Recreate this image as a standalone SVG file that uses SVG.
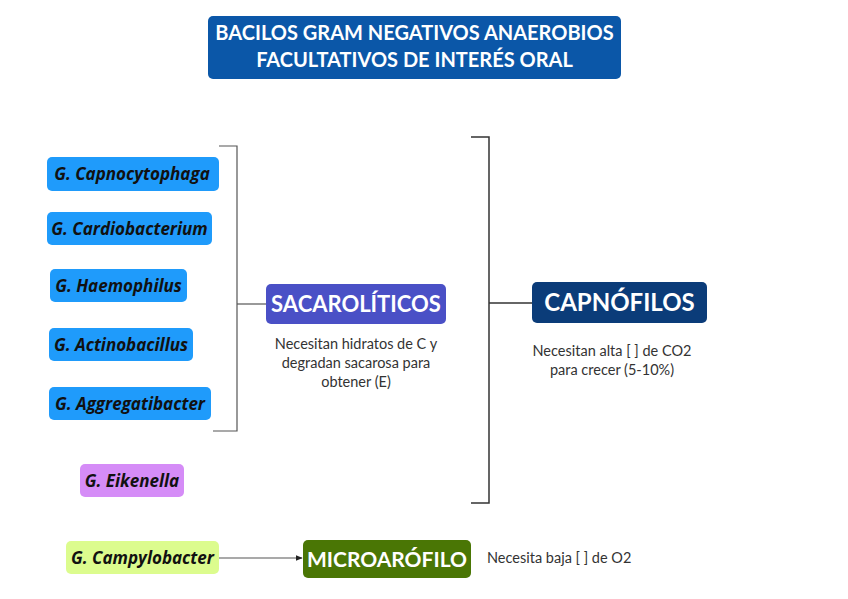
<svg xmlns="http://www.w3.org/2000/svg" width="848" height="599" viewBox="0 0 848 599">
<style>
.bg{fill:#ffffff}
.sp{font-family:"Open Sans","Noto Sans","Liberation Sans",sans-serif;font-weight:bold;font-style:italic;font-size:17px;fill:#111111;text-anchor:middle}
.big{font-family:Lato,"Noto Sans","Liberation Sans",sans-serif;font-weight:bold;font-size:22px;fill:#ffffff;text-anchor:middle}
.title{font-family:Lato,"Noto Sans","Liberation Sans",sans-serif;font-weight:bold;font-size:20px;fill:#ffffff;text-anchor:middle}
.desc{font-family:Lato,"Noto Sans","Liberation Sans",sans-serif;font-size:14.5px;fill:#333333;text-anchor:middle}
.blue{fill:#1f9bfb}
.conn{fill:none;stroke:#555555;stroke-width:1.2}
.conn2{fill:none;stroke:#333333;stroke-width:1.5}
</style>
<defs>
<marker id="arr" viewBox="0 0 10 10" refX="9" refY="5" markerWidth="6" markerHeight="6" orient="auto">
<path d="M0,1 L10,5 L0,9 z" fill="#222222"/>
</marker>
</defs>
<rect class="bg" x="0" y="0" width="848" height="599"/>

<g id="title">
<rect x="208" y="16" width="413" height="63" rx="5" fill="#0b57a8"/>
<text class="title" x="414.5" y="40">BACILOS GRAM NEGATIVOS ANAEROBIOS</text>
<text class="title" x="414.5" y="67">FACULTATIVOS DE INTERÉS ORAL</text>
</g>

<g id="connectors">
<path class="conn" d="M219,146 H237 V431 H213"/>
<path class="conn" d="M237,304 H266"/>
<path class="conn2" d="M471,137 H489 V503 H471"/>
<path class="conn2" d="M489,303 H532"/>
<path class="conn" d="M219,558 H302" marker-end="url(#arr)"/>
</g>

<g id="capnocytophaga">
<rect class="blue" x="47" y="157" width="172" height="34" rx="5"/>
<text class="sp" x="132" y="180">G. Capnocytophaga</text>
</g>
<g id="cardiobacterium">
<rect class="blue" x="47" y="212" width="165" height="33" rx="5"/>
<text class="sp" x="129.5" y="234.5">G. Cardiobacterium</text>
</g>
<g id="haemophilus">
<rect class="blue" x="50" y="269" width="137" height="33" rx="5"/>
<text class="sp" x="118.5" y="291.5">G. Haemophilus</text>
</g>
<g id="actinobacillus">
<rect class="blue" x="49" y="328" width="144" height="33" rx="5"/>
<text class="sp" x="121" y="350.5">G. Actinobacillus</text>
</g>
<g id="aggregatibacter">
<rect class="blue" x="49" y="387" width="162" height="33" rx="5"/>
<text class="sp" x="130" y="409.5">G. Aggregatibacter</text>
</g>
<g id="eikenella">
<rect x="80" y="464" width="104" height="33" rx="5" fill="#d58cf7"/>
<text class="sp" x="132" y="486.5">G. Eikenella</text>
</g>

<g id="sacaroliticos">
<rect x="266" y="284" width="180" height="40" rx="5" fill="#4a50c6"/>
<text class="big" x="356" y="312">SACAROLÍTICOS</text>
<text class="desc" x="356" y="349">Necesitan hidratos de C y</text>
<text class="desc" x="356" y="368">degradan sacarosa para</text>
<text class="desc" x="356" y="387">obtener (E)</text>
</g>

<g id="capnofilos">
<rect x="532" y="282" width="175" height="41" rx="5" fill="#0b3c79"/>
<text class="big" x="619.5" y="310.5" style="font-size:24px">CAPNÓFILOS</text>
<text class="desc" x="612" y="356">Necesitan alta [ ] de CO2</text>
<text class="desc" x="612" y="375">para crecer (5-10%)</text>
</g>

<g id="campylobacter">
<rect x="66" y="541" width="153" height="33" rx="5" fill="#dcfc8e"/>
<text class="sp" x="142.5" y="563.5">G. Campylobacter</text>
</g>

<g id="microarofilo">
<rect x="303" y="540" width="168" height="38" rx="5" fill="#4a7605"/>
<text class="big" x="387" y="566.5" style="font-size:21px">MICROARÓFILO</text>
<text class="desc" x="487" y="563" style="text-anchor:start">Necesita baja [ ] de O2</text>
</g>
</svg>
